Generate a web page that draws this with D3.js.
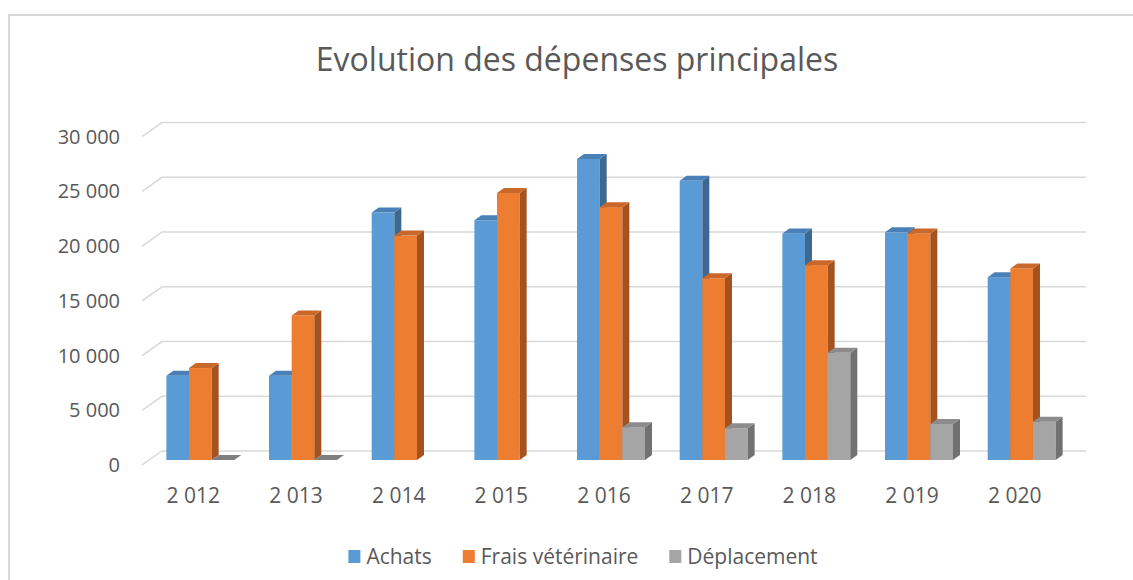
<!DOCTYPE html>
<html>
<head>
<meta charset="utf-8">
<script src="https://cdn.jsdelivr.net/npm/d3@7"></script>
<style>
  body { margin: 0; background: #fff; }
  svg { display: block; font-family: "Open Sans", "Noto Sans", sans-serif; }
</style>
</head>
<body>
<svg id="chart" width="1133" height="580"></svg>
<script>
// data (null = no value in that year)
const years = [2012, 2013, 2014, 2015, 2016, 2017, 2018, 2019, 2020];
const seriesNames = ["Achats", "Frais vétérinaire", "Déplacement"];
const achats = [7700, 7700, 22600, 21900, 27500, 25500, 20700, 20800, 16700];
const frais = [8400, 13200, 20500, 24400, 23100, 16600, 17800, 20700, 17500];
const deplacement = [0, 0, null, null, 3000, 2900, 9800, 3300, 3500];
const yTicks = [0, 5000, 10000, 15000, 20000, 25000, 30000];

const colors = {
    "Achats": { front: "#5b9bd5", top: "#4a80b8", side: "#3d6892" },
    "Frais vétérinaire": { front: "#ed7d31", top: "#c9682a", side: "#a4531f" },
    "Déplacement": { front: "#a5a5a5", top: "#8c8c8c", side: "#717171" }
};

const svg = d3.select("#chart");
const fr = d3.formatLocale({ decimal: ",", thousands: " ", grouping: [3], currency: ["", " €"] });
const fmt = fr.format(",d");

// chart border
svg.append("rect")
    .attr("x", 9).attr("y", 15)
    .attr("width", 1140).attr("height", 600)
    .attr("fill", "none")
    .attr("stroke", "#d9d9d9")
    .attr("stroke-width", 2);

// title
svg.append("text")
    .attr("x", 577).attr("y", 71)
    .attr("text-anchor", "middle")
    .attr("font-size", 32)
    .attr("fill", "#595959")
    .text("Evolution des dépenses principales");

// oblique 3d offsets
const wall = { dx: 20, dy: -14 };
const barOff = { dx: 7, dy: -5 };
const depth = { dx: 7, dy: -5 };

let x0 = d3.scaleBand()
    .domain(years)
    .range([142, 1066])
    .paddingInner(0.338)
    .paddingOuter(0.169);

let x1 = d3.scaleBand()
    .domain(seriesNames)
    .range([0, x0.bandwidth()]);

let y = d3.scaleLinear()
    .domain([0, 30000])
    .range([465, 136.6]);

// gridlines: floor diagonal + back wall
const grid = svg.append("g");
yTicks.forEach(function (t) {
    let yy = y(t);
    grid.append("path")
        .attr("d", "M" + x0.range()[0] + "," + yy +
            "L" + (x0.range()[0] + wall.dx) + "," + (yy + wall.dy) +
            "L" + (x0.range()[1] + wall.dx) + "," + (yy + wall.dy))
        .attr("fill", "none")
        .attr("stroke", "#d9d9d9")
        .attr("stroke-width", 1.5);
});

// y labels
svg.append("g").selectAll("text")
    .data(yTicks)
    .join("text")
    .attr("x", 120)
    .attr("y", d => y(d) + 7)
    .attr("text-anchor", "end")
    .attr("font-size", 20)
    .attr("fill", "#595959")
    .text(d => fmt(d));

// category labels
svg.append("g").selectAll("text")
    .data(years)
    .join("text")
    .attr("x", d => x0(d) + x0.bandwidth() / 2)
    .attr("y", 503)
    .attr("text-anchor", "middle")
    .attr("font-size", 21)
    .attr("fill", "#595959")
    .text(d => fmt(d));

// bars, drawn left to right so each front face covers the previous side face
const values = { "Achats": achats, "Frais vétérinaire": frais, "Déplacement": deplacement };
let bars = [];
years.forEach(function (yr, i) {
    seriesNames.forEach(function (s) {
        if (values[s][i] !== null) bars.push({ year: yr, series: s, value: values[s][i] });
    });
});

const barLayer = svg.append("g");
bars.forEach(function (b) {
    let xl = x0(b.year) + x1(b.series) + barOff.dx;
    let xr = xl + x1.bandwidth();
    let yb = y(0) + barOff.dy;
    let yt = y(b.value) + barOff.dy;
    let c = colors[b.series];
    let g = barLayer.append("g");
    if (b.value > 0) {
        g.append("rect")
            .attr("x", xl).attr("y", yt)
            .attr("width", xr - xl).attr("height", yb - yt)
            .attr("fill", c.front);
        g.append("polygon")
            .attr("points", [[xr, yt], [xr + depth.dx, yt + depth.dy], [xr + depth.dx, yb + depth.dy], [xr, yb]].join(" "))
            .attr("fill", c.side);
    }
    g.append("polygon")
        .attr("points", [[xl, yt], [xl + depth.dx, yt + depth.dy], [xr + depth.dx, yt + depth.dy], [xr, yt]].join(" "))
        .attr("fill", b.value > 0 ? c.top : "#7f7f7f");
});

// legend
const legend = svg.append("g");
let lx = 0;
seriesNames.forEach(function (s, i) {
    let item = legend.append("g").attr("transform", "translate(" + lx + ",0)");
    item.append("rect")
        .attr("x", 0).attr("y", 550)
        .attr("width", 12).attr("height", 13)
        .attr("fill", colors[s].front);
    let t = item.append("text")
        .attr("x", 18).attr("y", 564)
        .attr("font-size", 21)
        .attr("fill", "#595959")
        .text(s);
    lx += 18 + t.node().getComputedTextLength() + 31;
});
let legendWidth = lx - 31;
legend.attr("transform", "translate(" + (583 - legendWidth / 2) + ",0)");
</script>
</body>
</html>
